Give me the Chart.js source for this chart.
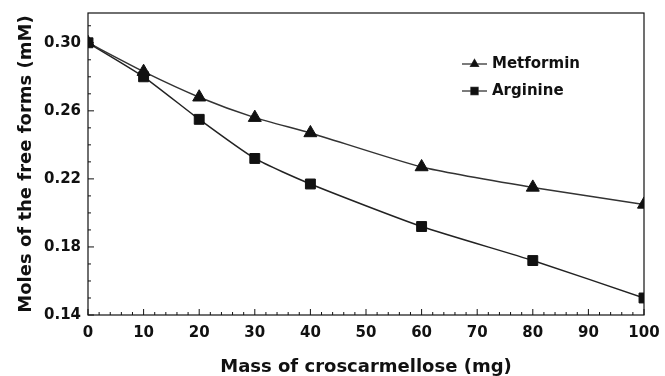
<!DOCTYPE html>
<html>
<head>
<meta charset="utf-8">
<script src="https://cdn.jsdelivr.net/npm/chart.js@4"></script>
<style>
  body { margin: 0; background: #fff; }
  #wrap { width: 665px; height: 376px; }
</style>
</head>
<body>
<div id="wrap"><canvas id="chart"></canvas></div>
<script>
const mass = [0, 10, 20, 30, 40, 60, 80, 100];
const metformin = [0.300, 0.283, 0.268, 0.256, 0.247, 0.227, 0.215, 0.205];
const arginine = [0.300, 0.280, 0.255, 0.232, 0.217, 0.192, 0.172, 0.150];

const xTicks = [0, 10, 20, 30, 40, 50, 60, 70, 80, 90, 100];
const yTicks = [0.14, 0.18, 0.22, 0.26, 0.30];

const FONT = "'DejaVu Sans', sans-serif";
const INK = "#111";

function pts(ys) {
  return mass.map((m, i) => ({ x: m, y: ys[i] }));
}

// frame, inward ticks and legend
const extras = {
  id: "extras",
  afterDraw(chart) {
    const ctx = chart.ctx;
    const a = chart.chartArea;
    const xs = chart.scales.x;
    const ys = chart.scales.y;
    ctx.save();
    ctx.strokeStyle = INK;
    ctx.lineWidth = 1.2;
    ctx.strokeRect(a.left, a.top, a.right - a.left, a.bottom - a.top);

    ctx.lineWidth = 1;
    ctx.beginPath();
    for (let v = 0; v <= 100; v += 2) {
      const px = xs.getPixelForValue(v);
      const len = v % 10 === 0 ? 6 : 3;
      ctx.moveTo(px, a.bottom);
      ctx.lineTo(px, a.bottom - len);
    }
    for (let k = 14; k <= 31; k++) {
      const py = ys.getPixelForValue(k / 100);
      const len = (k - 14) % 4 === 0 ? 6 : 3;
      ctx.moveTo(a.left, py);
      ctx.lineTo(a.left + len, py);
    }
    ctx.stroke();

    // legend
    const items = [
      { label: "Metformin", style: "triangle", r: 4.5, y: 64 },
      { label: "Arginine", style: "rect", r: 5, y: 91 }
    ];
    ctx.font = "bold 15px " + FONT;
    ctx.textBaseline = "middle";
    items.forEach(it => {
      ctx.strokeStyle = "#333";
      ctx.lineWidth = 1.3;
      ctx.beginPath();
      ctx.moveTo(462, it.y);
      ctx.lineTo(487, it.y);
      ctx.stroke();
      ctx.fillStyle = INK;
      Chart.helpers.drawPoint(ctx, { pointStyle: it.style, radius: it.r, borderWidth: 1 }, 474.5, it.y);
      ctx.fill();
      ctx.fillText(it.label, 492, it.y);
    });
    ctx.restore();
  }
};

new Chart(document.getElementById("chart"), {
  type: "line",
  data: {
    datasets: [
      {
        label: "Metformin",
        data: pts(metformin),
        borderColor: "#333",
        borderWidth: 1.5,
        tension: 0.2,
        pointStyle: "triangle",
        pointRadius: 7.5,
        pointBackgroundColor: INK,
        pointBorderColor: INK,
        pointBorderWidth: 1
      },
      {
        label: "Arginine",
        data: pts(arginine),
        borderColor: "#222",
        borderWidth: 1.5,
        tension: 0.2,
        pointStyle: "rect",
        pointRadius: 7,
        pointBackgroundColor: INK,
        pointBorderColor: INK,
        pointBorderWidth: 1
      }
    ]
  },
  options: {
    responsive: true,
    maintainAspectRatio: false,
    animation: false,
    events: [],
    layout: { padding: { top: 13, right: 21, left: 0, bottom: 0 } },
    plugins: {
      legend: { display: false },
      tooltip: { enabled: false }
    },
    scales: {
      x: {
        type: "linear",
        min: 0,
        max: 100,
        afterBuildTicks: s => { s.ticks = xTicks.map(v => ({ value: v })); },
        afterFit: s => { s.height = 61; s.paddingLeft = 0; s.paddingRight = 0; },
        grid: { display: false, drawTicks: false },
        border: { display: false },
        ticks: {
          color: INK,
          padding: 9,
          maxRotation: 0,
          autoSkip: false,
          font: { family: FONT, size: 15, weight: "bold" }
        },
        title: {
          display: true,
          text: "Mass of croscarmellose (mg)",
          color: INK,
          padding: { top: 0, bottom: -2 },
          font: { family: FONT, size: 18, weight: "bold" }
        }
      },
      y: {
        min: 0.14,
        max: 0.3175,
        afterBuildTicks: s => { s.ticks = yTicks.map(v => ({ value: v })); },
        afterFit: s => { s.width = 88; s.paddingTop = 0; s.paddingBottom = 0; },
        grid: { display: false, drawTicks: false },
        border: { display: false },
        ticks: {
          color: INK,
          padding: 7,
          autoSkip: false,
          callback: v => v.toFixed(2),
          font: { family: FONT, size: 15, weight: "bold" }
        },
        title: {
          display: true,
          text: "Moles of the free forms (mM)",
          color: INK,
          padding: { top: 16, bottom: 0 },
          font: { family: FONT, size: 18, weight: "bold" }
        }
      }
    }
  },
  plugins: [extras]
});
</script>
</body>
</html>
